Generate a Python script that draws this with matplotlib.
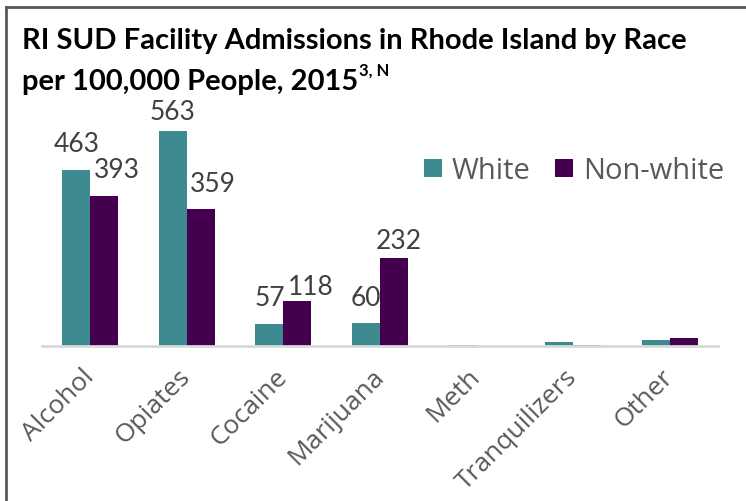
import matplotlib
matplotlib.use("Agg")
import matplotlib.pyplot as plt
import numpy as np

categories = ["Alcohol", "Opiates", "Cocaine", "Marijuana", "Meth", "Tranquilizers", "Other"]
white = [463, 563, 57, 60, 2.5, 11, 16]
nonwhite = [393, 359, 118, 232, 0, 1.5, 20]
white_labels = ["463", "563", "57", "60", "", "", ""]
nonwhite_labels = ["393", "359", "118", "232", "", "", ""]
# label placement tweaks (pixels): horizontal shift, gap above bar
white_dx = [0, 0, 0, 0, 0, 0, 0]
white_gap = [19, 12, 19, 18, 0, 0, 0]
nonwhite_dx = [13, 12, 13, 5, 0, 0, 0]
nonwhite_gap = [19, 18, 7, 10, 0, 0, 0]

C_WHITE = "#3d8b91"
C_NON = "#44004e"
TXT = "#595959"

W, H = 746, 502
fig = plt.figure(figsize=(W / 100, H / 100), dpi=100)
px = 72 / 100  # points per pixel

# frame (top and left gray lines)
fig.add_artist(plt.Line2D([6 / W, 1.0], [1 - 7.5 / H, 1 - 7.5 / H], transform=fig.transFigure,
                          color="#595959", lw=2.0))
fig.add_artist(plt.Line2D([6 / W, 6 / W], [0, 1 - 7.5 / H], transform=fig.transFigure,
                          color="#595959", lw=2.0))

ax_left, ax_right = 42 / W, 718 / W
ax_bottom = (H - 347) / H
ymax = 600
scale = 0.381
ax_h = ymax * scale / H
ax = fig.add_axes([ax_left, ax_bottom, ax_right - ax_left, ax_h])

x = np.arange(len(categories))
bw = 0.29
ax.bar(x - bw / 2, white, bw, color=C_WHITE, label="White")
ax.bar(x + bw / 2, nonwhite, bw, color=C_NON, label="Non-white")

ax.set_xlim(-0.5, len(categories) - 0.5)
ax.set_ylim(0, ymax)
for s in ["top", "right", "left"]:
    ax.spines[s].set_visible(False)
ax.spines["bottom"].set_color("#d9d9d9")
ax.spines["bottom"].set_linewidth(2)
ax.set_yticks([])
ax.set_xticks(x)
ax.set_xticklabels(categories, rotation=45, ha="right", va="center", rotation_mode="anchor",
                   fontsize=19, color=TXT, family="Open Sans")
ax.tick_params(axis="x", length=0, pad=19)
ax.patch.set_alpha(0)

for xi, v, lab, dx, g in zip(x - bw / 2, white, white_labels, white_dx, white_gap):
    if lab:
        ax.annotate(lab, (xi, v), xytext=(dx * px, g * px), textcoords="offset points",
                    ha="center", va="baseline", fontsize=19, color="#404040", family="Lato")
for xi, v, lab, dx, g in zip(x + bw / 2, nonwhite, nonwhite_labels, nonwhite_dx, nonwhite_gap):
    if lab:
        ax.annotate(lab, (xi, v), xytext=(dx * px, g * px), textcoords="offset points",
                    ha="center", va="baseline", fontsize=19, color="#404040", family="Lato")

leg = ax.legend(loc="center left",
                bbox_to_anchor=((424 - 42) / (718 - 42), (347 - 172) / (ymax * scale)),
                frameon=False, ncol=2, fontsize=21, handlelength=0.6, handleheight=0.6,
                handletextpad=0.35, columnspacing=0.85, borderaxespad=0, borderpad=0)
for t in leg.get_texts():
    t.set_color(TXT)
    t.set_family("Open Sans")

fig.text(22 / W, 1 - 49 / H, "RI SUD Facility Admissions in Rhode Island by Race",
         fontsize=21, fontweight="bold", family="Lato", color="#000000", va="baseline")
t2 = fig.text(22 / W, 1 - 90 / H, "per 100,000 People, 2015",
              fontsize=21, fontweight="bold", family="Lato", color="#000000", va="baseline")
fig.canvas.draw()
bb = t2.get_window_extent(renderer=fig.canvas.get_renderer())
fig.text(bb.x1 / W + 1 / W, 1 - 76 / H, "3, N", fontsize=12, fontweight="bold", family="Lato",
         color="#000000", va="baseline")

fig.savefig("out.png", dpi=100)
